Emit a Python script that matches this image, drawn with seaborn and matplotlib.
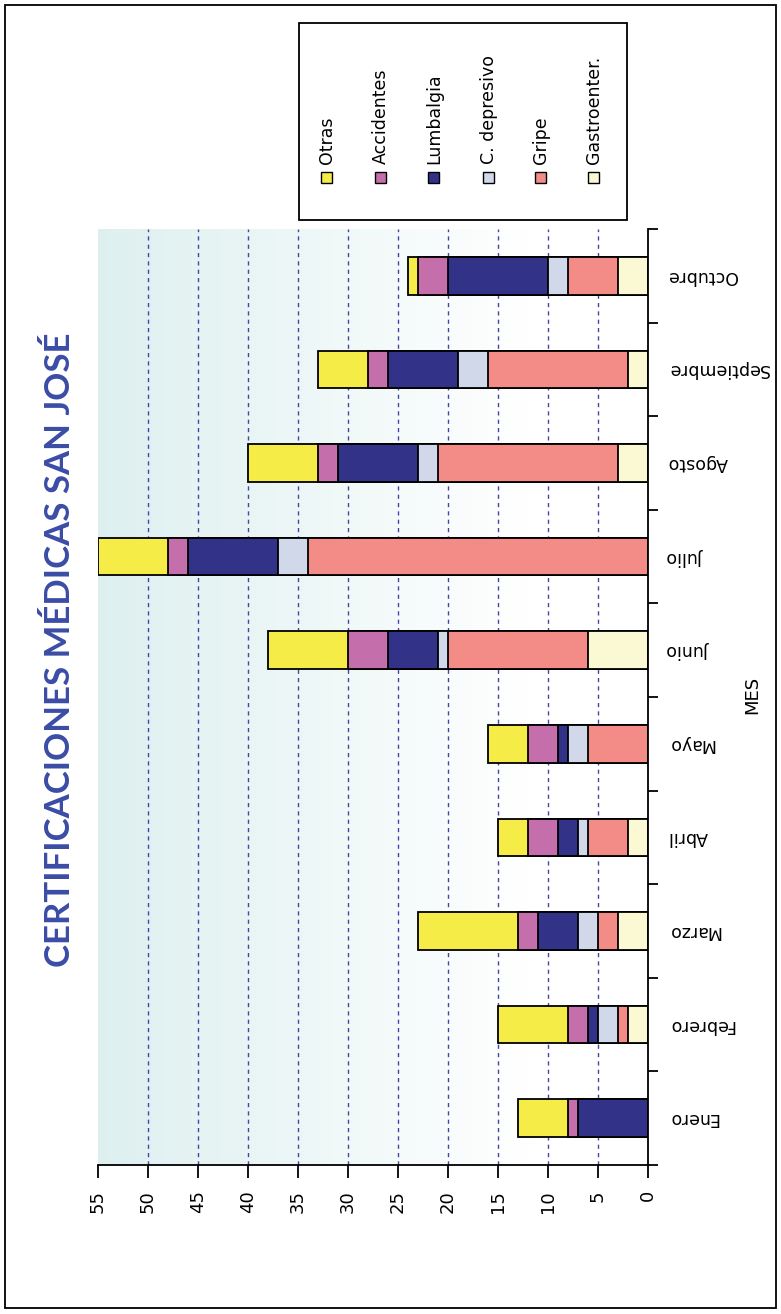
import numpy as np
import pandas as pd
import matplotlib
matplotlib.use('Agg')
import matplotlib.pyplot as plt
import seaborn as sns
from matplotlib.patches import Rectangle

# datos
meses = ['Enero', 'Febrero', 'Marzo', 'Abril', 'Mayo', 'Junio',
         'Julio', 'Agosto', 'Septiembre', 'Octubre']
gastroenter = [0, 2, 3, 2, 0, 6, 0, 3, 2, 3]
gripe = [0, 1, 2, 4, 6, 14, 34, 18, 14, 5]
c_depresivo = [0, 2, 2, 1, 2, 1, 3, 2, 3, 2]
lumbalgia = [7, 1, 4, 2, 1, 5, 9, 8, 7, 10]
accidentes = [1, 2, 2, 3, 3, 4, 2, 2, 2, 3]
otras = [5, 7, 10, 3, 4, 8, 7, 7, 5, 1]

series = ['Gastroenter.', 'Gripe', 'C. depresivo', 'Lumbalgia', 'Accidentes', 'Otras']
colores = ['#fbf8d4', '#f38b86', '#d1d8ea', '#323388', '#c46fab', '#f6ec47']
valores_eje = list(range(0, 56, 5))

df = pd.DataFrame({
    'Gastroenter.': gastroenter,
    'Gripe': gripe,
    'C. depresivo': c_depresivo,
    'Lumbalgia': lumbalgia,
    'Accidentes': accidentes,
    'Otras': otras,
}, index=meses)
acum = df.cumsum(axis=1)

W, H = 781, 1314
fig = plt.figure(figsize=(W / 100, H / 100), dpi=100)
ax = fig.add_axes([98 / W, 1 - 1165 / H, 550 / W, (1165 - 229) / H])

# fondo degradado
x = np.linspace(55, 0, 256)
t = np.clip((x - 12) / (55 - 12), 0, 1)[None, :, None]
teal = np.array([0.87, 0.94, 0.94])
grad = (1 - t) * np.ones(3) + t * teal
ax.imshow(grad, extent=(55, 0, -0.5, 9.5), aspect='auto', zorder=0)

for v in valores_eje[1:-1]:
    ax.axvline(v, color='#4545a5', lw=1.0, ls=(0, (3, 3)), zorder=0.5)

# barras apiladas: se dibuja el acumulado de mayor a menor
for serie, color in reversed(list(zip(series, colores))):
    sns.barplot(x=acum[serie].values, y=meses, orient='h', color=color,
                saturation=1, width=0.4, edgecolor='black', linewidth=1.3,
                errorbar=None, ax=ax, zorder=2)

ax.set_xlim(55, 0)
ax.set_ylim(-0.5, 9.5)
ax.set_xlabel('')
ax.set_ylabel('')

for s in ['left', 'top']:
    ax.spines[s].set_visible(False)
for s in ['right', 'bottom']:
    ax.spines[s].set_linewidth(1.3)
    ax.spines[s].set_color('black')

ax.set_xticks(valores_eje)
ax.set_xticklabels([str(v) for v in valores_eje], rotation=90)
ax.tick_params(axis='x', direction='out', length=9, width=1.3, pad=9, labelsize=13)

ax.yaxis.tick_right()
ax.set_yticks(range(len(meses)))
ax.set_yticklabels(meses, rotation=180)
ax.set_yticks(np.arange(-0.5, len(meses), 1), minor=True)
ax.tick_params(axis='y', which='major', length=0, pad=14, labelsize=12.5)
ax.tick_params(axis='y', which='minor', length=7, width=1.3, right=True, left=False)
for lbl in ax.get_yticklabels():
    lbl.set_va('center')

fig.text(752 / W, 1 - 695 / H, 'MES', rotation=90, fontsize=13,
         ha='center', va='center')

fig.text(60 / W, 1 - 650 / H, 'CERTIFICACIONES MÉDICAS SAN JOSÉ', rotation=90,
         color='#3b4ca6', fontsize=25, fontweight='bold', ha='center', va='center',
         family=['Lato', 'DejaVu Sans'])

# leyenda manual con texto girado
fig.add_artist(Rectangle((299 / W, 1 - 220 / H), 328 / W, 197 / H, fill=False,
                         edgecolor='black', lw=1.3, transform=fig.transFigure))
xs_leyenda = [326, 380, 433, 488, 540, 593]
for xc, serie, color in zip(xs_leyenda, series[::-1], colores[::-1]):
    fig.add_artist(Rectangle(((xc - 5) / W, 1 - 183 / H), 11 / W, 11 / H,
                             facecolor=color, edgecolor='black', lw=1.0,
                             transform=fig.transFigure))
    fig.text((xc + 1) / W, 1 - 164 / H, serie, rotation=90, fontsize=12.5,
             ha='center', va='bottom')

# marco exterior
fig.add_artist(Rectangle((5 / W, 1 - 1308 / H), 771 / W, 1303 / H, fill=False,
                         edgecolor='black', lw=1.3, transform=fig.transFigure))

fig.savefig('out.png', dpi=100)
